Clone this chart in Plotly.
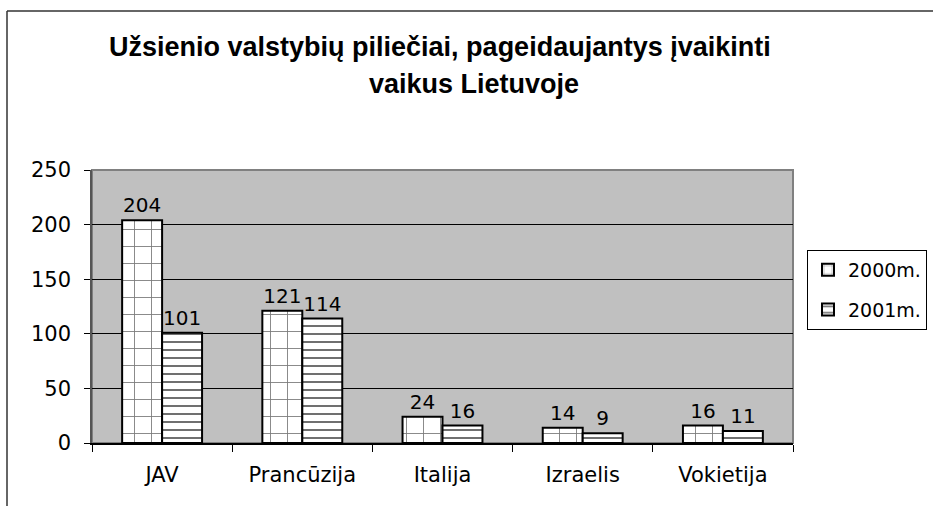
import plotly.graph_objects as go

# data
salys = ['JAV', 'Prancūzija', 'Italija', 'Izraelis', 'Vokietija']
m2000 = [204, 121, 24, 14, 16]
m2001 = [101, 114, 16, 9, 11]
y_ticks = [0, 50, 100, 150, 200, 250]

# plot area in pixels (for paper-coordinate helpers)
L, R, T, B = 92, 793, 170, 443
W, H = R - L, B - T

def px_x(px):
    return (px - L) / W

def px_y(py):
    return (B - py) / H

lbl_font = dict(family='DejaVu Sans', size=21, color='black')
val_font = dict(family='DejaVu Sans', size=20, color='black')

fig = go.Figure()
fig.add_trace(go.Bar(
    x=salys, y=m2000, name='2000m.',
    text=m2000, textposition='outside', textfont=val_font, cliponaxis=False,
    marker=dict(color='white', line=dict(color='black', width=2),
                pattern=dict(shape='+', fgcolor='#7a7a7a', bgcolor='white',
                             size=17, solidity=0.1, fillmode='replace')),
    legendgroup='a',
))
fig.add_trace(go.Bar(
    x=salys, y=m2001, name='2001m.',
    text=m2001, textposition='outside', textfont=val_font, cliponaxis=False,
    marker=dict(color='white', line=dict(color='black', width=2),
                pattern=dict(shape='-', fgcolor='#707070', bgcolor='white',
                             size=8, solidity=0.25, fillmode='replace')),
    legendgroup='b',
))

fig.update_layout(
    width=933, height=506,
    margin=dict(l=L, r=933 - R, t=T, b=506 - B, autoexpand=False),
    paper_bgcolor='white', plot_bgcolor='#c0c0c0',
    barmode='group', bargap=0.43, bargroupgap=0,
    font=dict(family='DejaVu Sans', size=19, color='black'),
    showlegend=True,
    legend=dict(x=px_x(807), y=px_y(250), xanchor='left', yanchor='top',
                bordercolor='black', borderwidth=1, bgcolor='white',
                font=dict(family='DejaVu Sans', size=19, color='black'),
                traceorder='grouped', tracegroupgap=12),
    xaxis=dict(type='category', tickson='boundaries', ticks='outside', ticklen=7,
               tickcolor='black', showline=True, linecolor='black', linewidth=1.5,
               showgrid=False, ticklabelstandoff=12, tickfont=lbl_font),
    yaxis=dict(range=[0, 250], tickvals=y_ticks, ticks='outside', ticklen=6,
               tickcolor='black', showline=True, linecolor='#555555', linewidth=1.5,
               showgrid=True, gridcolor='black', gridwidth=1, zeroline=False,
               ticklabelstandoff=9, tickfont=lbl_font),
)

# plot area border (gray top / right)
fig.add_shape(type='rect', xref='paper', yref='paper', x0=0, x1=1, y0=0, y1=1,
              line=dict(color='#808080', width=2), layer='below')
# outer chart frame (cut off on the right and bottom)
fig.add_shape(type='line', xref='paper', yref='paper',
              x0=px_x(7), x1=px_x(7), y0=px_y(11), y1=px_y(520),
              line=dict(color='#333333', width=1.5))
fig.add_shape(type='line', xref='paper', yref='paper',
              x0=px_x(7), x1=px_x(950), y0=px_y(11), y1=px_y(11),
              line=dict(color='#333333', width=1.5))

title_font = dict(family='Liberation Sans', size=27, color='black')
fig.add_annotation(text='<b>Užsienio valstybių piliečiai, pageidaujantys įvaikinti</b>',
                   xref='paper', yref='paper', x=px_x(440), y=px_y(47),
                   xanchor='center', yanchor='middle', showarrow=False, font=title_font)
fig.add_annotation(text='<b>vaikus Lietuvoje</b>',
                   xref='paper', yref='paper', x=px_x(474), y=px_y(84),
                   xanchor='center', yanchor='middle', showarrow=False, font=title_font)

# drop the default page margin so the figure sits at the window's top-left corner
fig.write_html('out.html', config={'displayModeBar': False},
               post_script="document.body.style.margin='0px';")
